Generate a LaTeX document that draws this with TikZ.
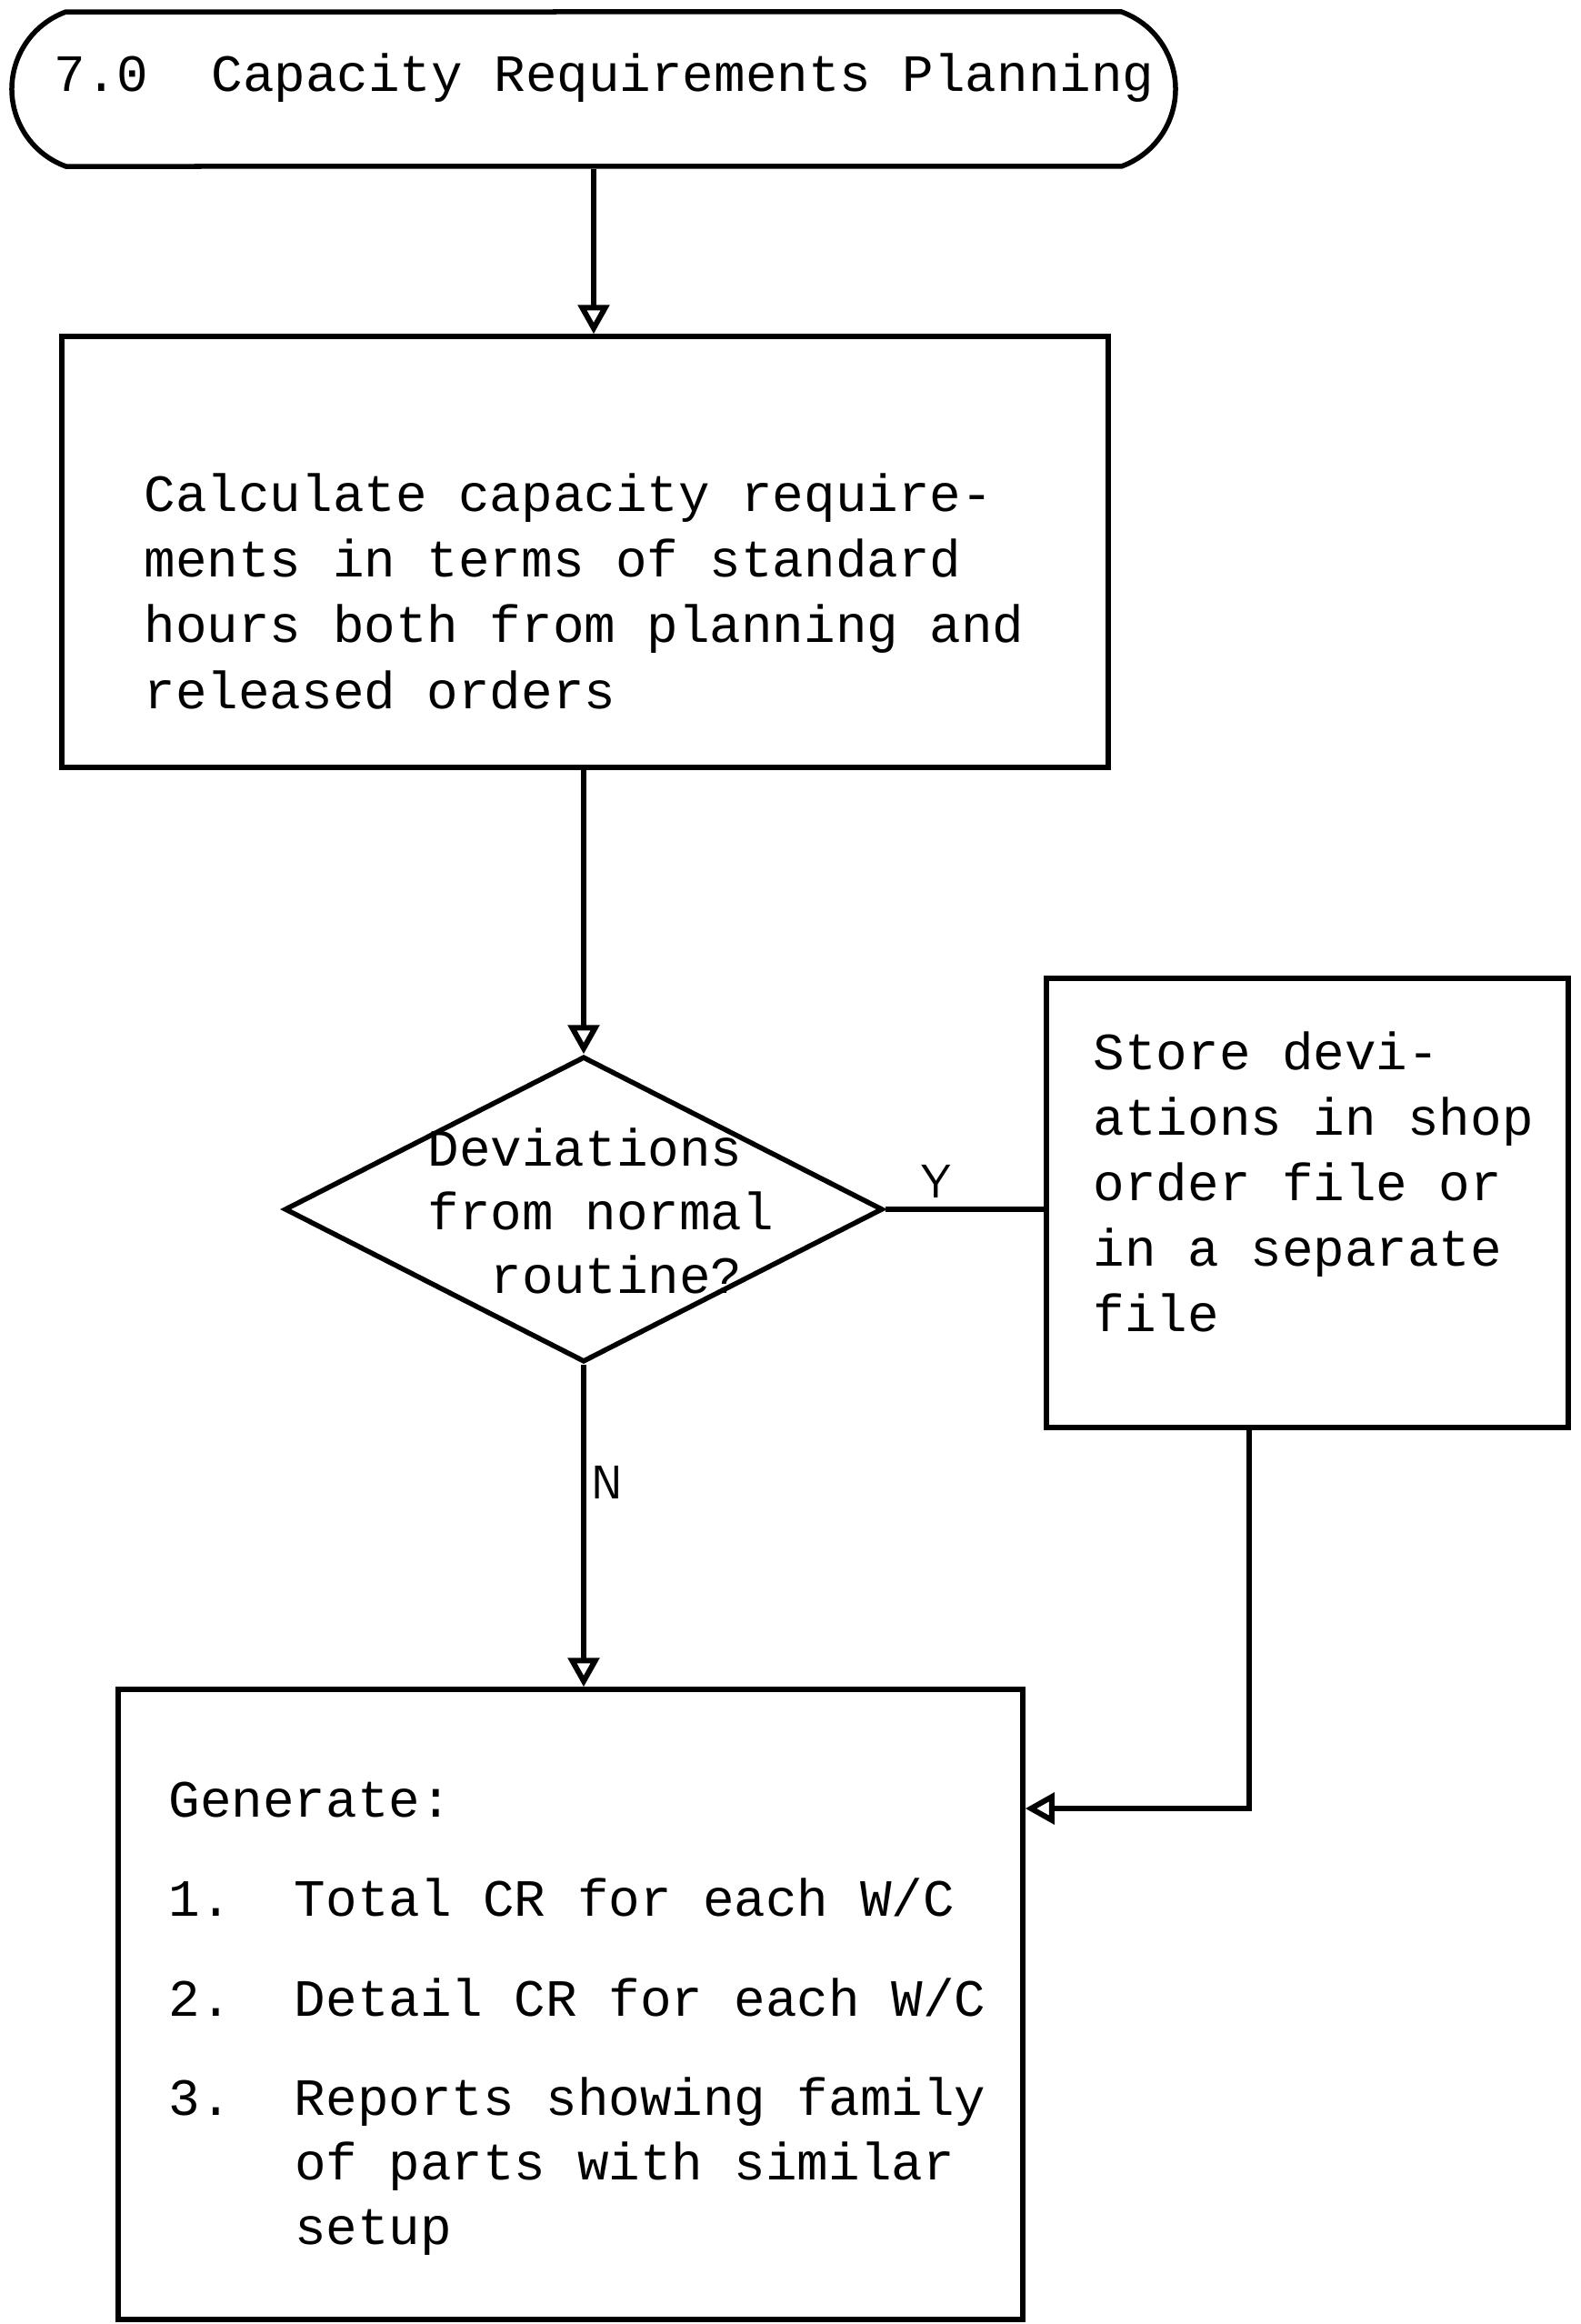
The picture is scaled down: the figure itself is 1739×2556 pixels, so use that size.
\documentclass[tikz,border=0pt]{standalone}
\usepackage{fontspec}
\setmonofont{Liberation Mono}
\usetikzlibrary{shapes.geometric,shapes.misc,arrows.meta}
\begin{document}
\begin{tikzpicture}[x=1pt,y=-1pt,
  line width=5.5pt,
  procbox/.style={draw, rectangle, inner sep=0pt, line width=5.5pt},
  % multi-line texts are placed by the baseline of their last line
  txt/.style={inner sep=0pt, anchor=base west, align=left,
    font=\ttfamily\frenchspacing\fontsize{57.6}{72.3}\selectfont},
  flag/.style={inner sep=0pt, font=\sffamily\fontsize{52}{52}\selectfont},
  arr/.style={-{Triangle[open,length=32pt,width=34pt,line width=6pt]}},
  link/.style={line width=5.5pt}]
\useasboundingbox (0,0) rectangle (1739,2556);

% start terminal
\node[draw, rounded rectangle, rounded rectangle arc length=140,
      minimum width=1280pt, minimum height=170pt, inner sep=0pt,
      line width=5.5pt] (term) at (653,98) {};
\node[txt] (title) at (57,100) {7.0\ \ Capacity Requirements Planning};

% process boxes
\node[procbox, minimum width=1151pt, minimum height=474pt] (calc) at (643.5,607) {};
\node[txt] (calctext) at (156,779) {Calculate capacity require-\\ments in terms of standard\\hours both from planning and\\released orders};

\node[procbox, minimum width=574pt, minimum height=494pt] (store) at (1438,1323) {};
\node[txt, font=\ttfamily\fontsize{57.6}{71.8}\selectfont] (storetext) at (1200,1464)
  {Store devi-\\ations in shop\\order file or\\in a separate\\file};

\node[procbox, minimum width=995pt, minimum height=693pt] (gen) at (627.5,2204.5) {};
\node[txt, font=\ttfamily\frenchspacing\fontsize{57.6}{71}\selectfont] (gentext) at (183,2468)
  {Generate:\\[38pt]
   1.\ \ Total CR for each W/C\\[39pt]
   2.\ \ Detail CR for each W/C\\[38pt]
   3.\ \ Reports showing family\\
   \phantom{3.}\ \ of parts with similar\\
   \phantom{3.}\ \ setup};

% decision
\node[draw, diamond, minimum width=658pt, minimum height=336pt, inner sep=0pt,
      line width=5.5pt] (dec) at (642,1330) {};
\node[txt, font=\ttfamily\fontsize{57.6}{70}\selectfont] (dectext) at (468,1422)
  {Deviations\\from normal\\\phantom{ro}routine?};

% connectors
\draw[link, arr] (term.south) -- (term.south |- calc.north);
\draw[link, arr] (dec.north |- calc.south) -- (dec.north);
\draw[link] (dec.east) -- (dec.east -| store.west);
\draw[link, arr] (dec.south) -- (dec.south |- gen.north);
\coordinate (bend) at (1374,1989);
\draw[link, arr] (bend |- store.south) -- (bend) -- (bend -| gen.east);

% branch labels
\node[flag] (yes) at (1030,1299) {Y};
\node[flag] (no) at (668,1630) {N};
\end{tikzpicture}
\end{document}
